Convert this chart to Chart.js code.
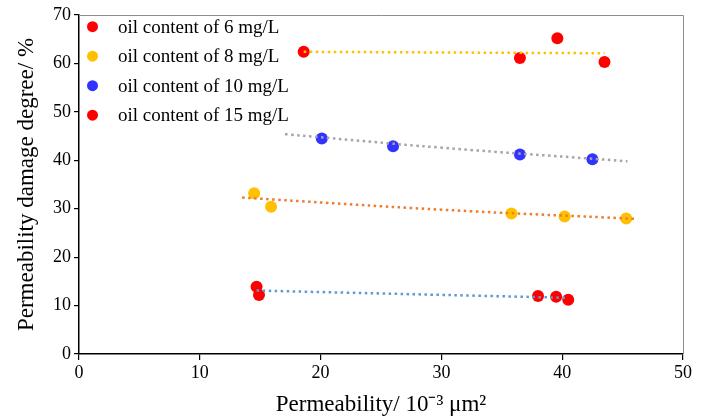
<!DOCTYPE html>
<html>
<head>
<meta charset="utf-8">
<script src="https://cdn.jsdelivr.net/npm/chart.js@4"></script>
<style>
html,body{margin:0;padding:0;background:#fff;}
#wrap{width:707px;height:418px;position:relative;}
</style>
</head>
<body>
<div id="wrap"><canvas id="c" width="707" height="418"></canvas></div>
<script>
const seriesLabels = ['oil content of 6 mg/L', 'oil content of 8 mg/L', 'oil content of 10 mg/L', 'oil content of 15 mg/L'];
const markerColors = ['#FF0000', '#FFC000', '#3333FF', '#FF0000'];
const trendColors = ['#FFC000', '#ED7D31', '#A5A5A5', '#5B9BD5'];

const perm6 = [18.6, 36.5, 39.6, 43.5];
const dmg6 = [62.4, 61.1, 65.2, 60.3];
const perm8 = [14.5, 15.9, 35.8, 40.2, 45.3];
const dmg8 = [33.2, 30.4, 29.0, 28.4, 28.0];
const perm10 = [20.1, 26.0, 36.5, 42.5];
const dmg10 = [44.5, 42.9, 41.2, 40.2];
const perm15 = [14.7, 14.9, 38.0, 39.5, 40.5];
const dmg15 = [13.9, 12.2, 12.0, 11.8, 11.2];

const trend6X = [18.6, 43.5];
const trend6Y = [62.4, 62.1];
const trend8X = [13.5, 30, 46.1];
const trend8Y = [32.3, 29.8, 27.9];
const trend10X = [17.05, 30, 45.4];
const trend10Y = [45.4, 42.6, 39.8];
const trend15X = [14.7, 40.4];
const trend15Y = [13.1, 11.6];

const xTicks = [0, 10, 20, 30, 40, 50];
const yTicks = [0, 10, 20, 30, 40, 50, 60, 70];

const FONT = "'Liberation Serif', 'Times New Roman', serif";
const pts = (xs, ys) => xs.map((x, i) => ({x: x, y: ys[i]}));

const markerSets = [[perm6, dmg6], [perm8, dmg8], [perm10, dmg10], [perm15, dmg15]];
const trendSets = [[trend6X, trend6Y], [trend8X, trend8Y], [trend10X, trend10Y], [trend15X, trend15Y]];

const datasets = [];
markerSets.forEach((s, i) => {
  datasets.push({
    label: seriesLabels[i],
    data: pts(s[0], s[1]),
    backgroundColor: markerColors[i],
    borderColor: markerColors[i],
    pointRadius: 6,
    pointHoverRadius: 6,
    borderWidth: 0,
    showLine: false,
    order: 2
  });
});
trendSets.forEach((s, i) => {
  datasets.push({
    label: 'trend ' + seriesLabels[i],
    data: pts(s[0], s[1]),
    borderColor: trendColors[i],
    backgroundColor: trendColors[i],
    borderWidth: 2.5,
    borderDash: [2.5, 3.5],
    pointRadius: 0,
    showLine: true,
    tension: 0.4,
    fill: false,
    order: 1
  });
});

const framePlugin = {
  id: 'frame',
  afterDraw(chart) {
    const {ctx, chartArea: a} = chart;
    ctx.save();
    ctx.strokeStyle = '#8c8c8c';
    ctx.lineWidth = 1;
    ctx.beginPath();
    ctx.moveTo(a.left, a.top + 0.5);
    ctx.lineTo(a.right + 0.5, a.top + 0.5);
    ctx.lineTo(a.right + 0.5, a.bottom);
    ctx.stroke();
    // legend
    ctx.font = '19px ' + FONT;
    ctx.textBaseline = 'middle';
    ctx.textAlign = 'left';
    seriesLabels.forEach((lab, i) => {
      const y = a.top + 11.7 + i * 29.5;
      ctx.fillStyle = markerColors[i];
      ctx.beginPath();
      ctx.arc(a.left + 13.5, y, 5.5, 0, Math.PI * 2);
      ctx.fill();
      ctx.fillStyle = '#000';
      ctx.fillText(lab, a.left + 39, y + 1);
    });
    ctx.restore();
  }
};

new Chart(document.getElementById('c'), {
  type: 'scatter',
  data: {datasets: datasets},
  options: {
    responsive: false,
    animation: false,
    devicePixelRatio: 1,
    layout: {padding: {top: 15, right: 24, left: 0, bottom: 0}},
    plugins: {
      legend: {display: false},
      tooltip: {enabled: false}
    },
    scales: {
      x: {
        type: 'linear',
        min: 0, max: 50,
        afterBuildTicks: s => { s.ticks = xTicks.map(v => ({value: v})); },
        afterFit: s => { s.height = 64; },
        border: {color: '#000', width: 1.5},
        grid: {drawOnChartArea: false, drawTicks: true, tickLength: 6, color: '#000', lineWidth: 1.2},
        ticks: {color: '#000', font: {family: FONT, size: 18}, padding: 2, maxRotation: 0},
        title: {display: true, text: 'Permeability/ 10⁻³ μm²', color: '#000', font: {family: FONT, size: 23}, padding: {top: 0, bottom: -1}}
      },
      y: {
        type: 'linear',
        min: 0, max: 70,
        afterBuildTicks: s => { s.ticks = yTicks.map(v => ({value: v})); },
        afterFit: s => { s.width = 79; },
        border: {color: '#000', width: 1.5},
        grid: {drawOnChartArea: false, drawTicks: true, tickLength: 5, color: '#000', lineWidth: 1.2},
        ticks: {color: '#000', font: {family: FONT, size: 18}, padding: 3},
        title: {display: true, text: 'Permeability damage degree/ %', color: '#000', font: {family: FONT, size: 23}, padding: {top: 13, bottom: 0}}
      }
    }
  },
  plugins: [framePlugin]
});
</script>
</body>
</html>
